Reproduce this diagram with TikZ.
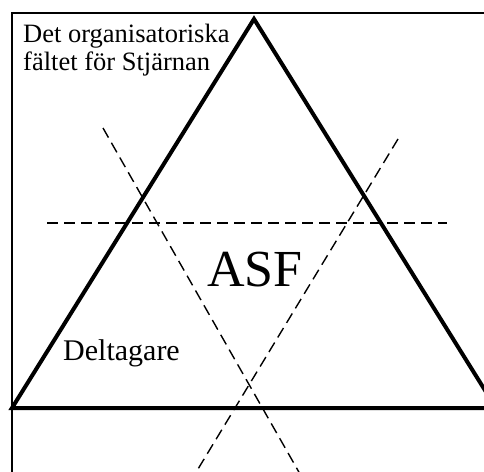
\documentclass[tikz,border=0pt]{standalone}
\usepackage{fontspec}
\setmainfont{Liberation Serif}
\begin{document}
\begin{tikzpicture}[x=1pt,y=-1pt,
  frame/.style={line width=1.3pt},
  tri/.style={line width=4pt,line join=miter},
  dline/.style={line width=1.4pt,dash pattern=on 11pt off 6pt},
  lbl/.style={inner sep=0pt,anchor=base west}]
\useasboundingbox (0,0) rectangle (484,471);
\begin{scope}
\clip (0,0) rectangle (484,471);
% frame
\coordinate (fTR) at (486,13);
\coordinate (fTL) at (12,13);
\coordinate (fBL) at (12,473);
\draw[frame] (fTR) -- (fTL) -- (fBL);
% triangle
\coordinate (apex) at (254,19);
\coordinate (left) at (12,408);
\coordinate (right) at (496,408);
\draw[tri] (right) -- (apex) -- (left) -- cycle;
% dashed lines
\coordinate (h1) at (47,223);
\coordinate (h2) at (447,223);
\coordinate (a1) at (103,128);
\coordinate (a2) at (300,474);
\coordinate (b1) at (398,139);
\coordinate (b2) at (195,474);
\draw[dline] (h1) -- (h2);
\draw[dline] (a1) -- (a2);
\draw[dline] (b1) -- (b2);
\end{scope}
% texts
\node[lbl,font=\fontsize{26.5}{28}\selectfont] (t1) at (23,42) {Det organisatoriska};
\node[lbl,font=\fontsize{26.5}{28}\selectfont] (t2) at (23,70) {fältet för Stjärnan};
\node[lbl,font=\fontsize{52}{56}\selectfont] (asf) at (207,286) {ASF};
\node[lbl,font=\fontsize{30}{34}\selectfont] (del) at (63,360) {Deltagare};
\end{tikzpicture}
\end{document}
